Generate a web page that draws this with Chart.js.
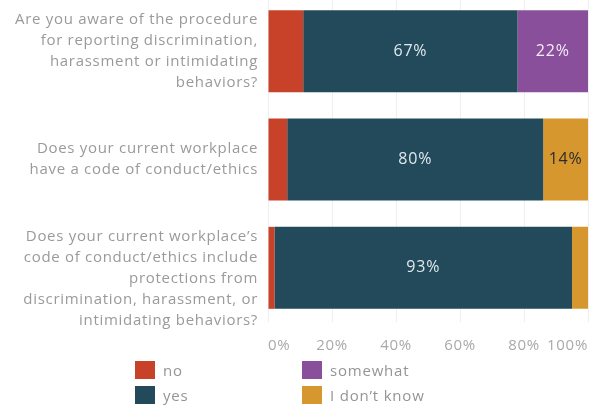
<!DOCTYPE html>
<html><head><meta charset="utf-8">
<script src="https://cdn.jsdelivr.net/npm/chart.js@4/dist/chart.umd.min.js"></script>
<style>
html,body{margin:0;padding:0;background:#fff;width:603px;height:405px;overflow:hidden;font-family:"Open Sans",sans-serif;}
#wrap{position:absolute;left:0;top:-3px;width:603px;height:360px;}
#legend{position:absolute;left:0;top:0;width:603px;height:405px;pointer-events:none;}
.li{position:absolute;display:flex;align-items:center;font-size:15px;color:#959595;height:20px;letter-spacing:0.8px;}
.sw{width:20px;height:18px;margin-right:8px;}
</style></head>
<body>
<div id="wrap"><canvas id="c"></canvas></div>
<div id="legend"></div>
<script>
const categories = [
  ["Are you aware of the procedure","for reporting discrimination,","harassment or intimidating","behaviors?"],
  ["Does your current workplace","have a code of conduct/ethics"],
  ["","Does your current workplace\u2019s","code of conduct/ethics include","protections from","discrimination, harassment, or","intimidating behaviors?"]
];
const seriesNames = ["no","yes","somewhat","I don\u2019t know"];
const noVals = [11, 6, 2];
const yesVals = [67, 80, 93];
const somewhatVals = [22, 0, 0];
const dontKnowVals = [0, 14, 5];
const xTicks = [0,20,40,60,80,100];
const colors = ["#c8422a","#234a5b","#8a4f9b","#d6982e"];
const labelColors = ["#ffffff","#dfe9ee","#f3ecf6","#2b2b2b"];

const series = [noVals, yesVals, somewhatVals, dontKnowVals];

const spacing = {
  id:'spacing',
  beforeUpdate(chart){ chart.ctx.letterSpacing = '0.7px'; },
  beforeDraw(chart){ chart.ctx.letterSpacing = '0.7px'; }
};

const barLabels = {
  id:'barLabels',
  afterDatasetsDraw(chart){
    const ctx = chart.ctx;
    ctx.save();
    ctx.font = '16px "Open Sans", sans-serif';
    ctx.letterSpacing = '0.8px';
    ctx.textAlign='center'; ctx.textBaseline='middle';
    chart.data.datasets.forEach((ds,di)=>{
      const meta = chart.getDatasetMeta(di);
      meta.data.forEach((el,i)=>{
        const v = ds.data[i];
        if (v >= 12) {
          const cx = (el.x + el.base)/2;
          ctx.fillStyle = labelColors[di];
          ctx.fillText(v + '%', cx, el.y);
        }
      });
    });
    ctx.restore();
  }
};

new Chart(document.getElementById('c'), {
  type:'bar',
  data:{
    labels: categories,
    datasets: series.map((d,i)=>({label: seriesNames[i], data: d, backgroundColor: colors[i], borderWidth:0, categoryPercentage:1, barPercentage:0.757}))
  },
  options:{
    indexAxis:'y',
    responsive:true, maintainAspectRatio:false, animation:false,
    layout:{padding:{right:15,left:0,top:0,bottom:0}},
    plugins:{legend:{display:false}, tooltip:{enabled:false}},
    scales:{
      x:{
        stacked:true, min:0, max:100,
        afterBuildTicks(s){ s.ticks = xTicks.map(v=>({value:v})); },
        grid:{color:'#efefef', drawTicks:false},
        border:{display:false},
        ticks:{callback:v=>v+'%', color:'#a9a9a9', font:{family:'"Open Sans", sans-serif', size:15}, padding:15, align:'inner', maxRotation:0, autoSkip:false},
        afterFit(s){ s.height = 35; s.paddingLeft = 0; s.paddingRight = 0; }
      },
      y:{
        stacked:true,
        grid:{display:false, drawTicks:false},
        border:{display:false},
        ticks:{color:'#9a9a9a', font:{family:'"Open Sans", sans-serif', size:15, lineHeight:1.4}, padding:10, autoSkip:false},
        afterFit(s){ s.width = 268; s.paddingTop = 0; s.paddingBottom = 0; }
      }
    }
  },
  plugins:[spacing, barLabels]
});

const legendPos = [[135,360],[135,385],[302,360],[302,385]];
const lg = document.getElementById('legend');
seriesNames.forEach((n,i)=>{
  const d = document.createElement('div');
  d.className='li';
  d.style.left = legendPos[i][0]+'px';
  d.style.top = legendPos[i][1]+'px';
  d.innerHTML = '<div class="sw" style="background:'+colors[i]+'"></div><span>'+n+'</span>';
  lg.appendChild(d);
});
</script>
</body></html>
